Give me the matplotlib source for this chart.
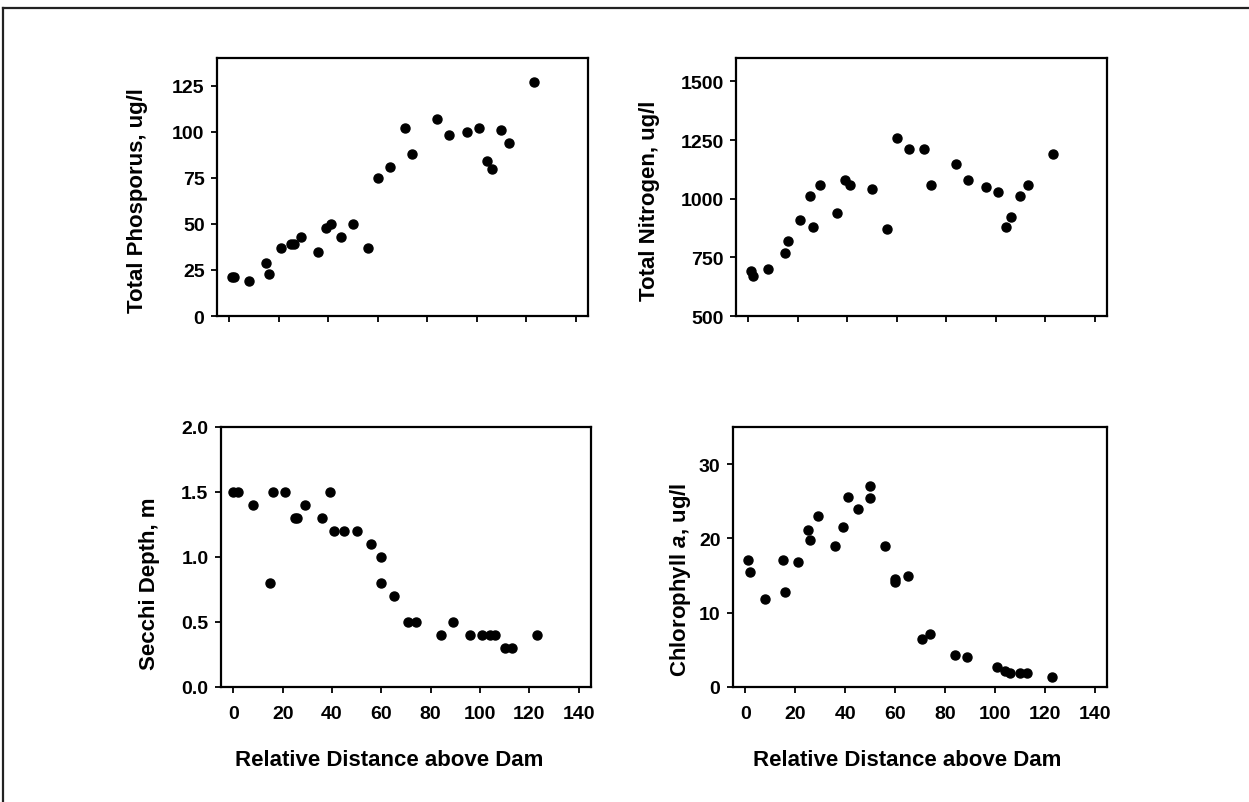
import matplotlib
matplotlib.use("Agg")
import matplotlib.pyplot as plt
from matplotlib.lines import Line2D

plt.rcParams['font.family'] = ['Liberation Sans', 'DejaVu Sans']
plt.rcParams['font.weight'] = 'bold'
plt.rcParams['mathtext.fontset'] = 'custom'
plt.rcParams['mathtext.it'] = 'Liberation Sans:bold:italic'
plt.rcParams['mathtext.rm'] = 'Liberation Sans:bold'

# ---- data ----
tp_x = [1, 2, 8, 15, 16, 21, 25, 26, 29, 36, 39, 41, 45, 50, 56, 60, 65, 71, 74,
        84, 89, 96, 101, 104, 106, 110, 113, 123]
tp_y = [21, 21, 19, 29, 23, 37, 39, 39, 43, 35, 48, 50, 43, 50, 37, 75, 81, 102, 88,
        107, 98, 100, 102, 84, 80, 101, 94, 127]

tn_x = [1, 2, 8, 15, 16, 21, 25, 26, 29, 36, 39, 41, 50, 56, 60, 65, 71, 74,
        84, 89, 96, 101, 104, 106, 110, 113, 123]
tn_y = [690, 670, 700, 770, 820, 910, 1010, 880, 1060, 940, 1080, 1060, 1040, 870, 1260,
        1210, 1210, 1060, 1150, 1080, 1050, 1030, 880, 920, 1010, 1060, 1190]

sd_x = [0, 2, 8, 16, 15, 21, 25, 26, 29, 36, 39, 41, 45, 50, 56, 60, 60, 65, 71, 74,
        84, 89, 96, 101, 104, 106, 110, 113, 123]
sd_y = [1.5, 1.5, 1.4, 1.5, 0.8, 1.5, 1.3, 1.3, 1.4, 1.3, 1.5, 1.2, 1.2, 1.2, 1.1, 1.0, 0.8,
        0.7, 0.5, 0.5, 0.4, 0.5, 0.4, 0.4, 0.4, 0.4, 0.3, 0.3, 0.4]

ch_x = [1, 2, 8, 15, 16, 21, 25, 26, 29, 36, 39, 41, 45, 50, 50, 56, 60, 60, 65, 71, 74,
        84, 89, 101, 104, 106, 110, 113, 123]
ch_y = [17.1, 15.5, 11.8, 17.1, 12.8, 16.8, 21.1, 19.8, 23.0, 19.0, 21.6, 25.6, 24.0, 27.0,
        25.4, 19.0, 14.5, 14.2, 15.0, 6.4, 7.2, 4.3, 4.0, 2.7, 2.2, 1.9, 1.9, 1.9, 1.3]

x_ticks = [0, 20, 40, 60, 80, 100, 120, 140]
tp_ticks = [0, 25, 50, 75, 100, 125]
tn_ticks = [500, 750, 1000, 1250, 1500]
sd_ticks = [0.0, 0.5, 1.0, 1.5, 2.0]
ch_ticks = [0, 10, 20, 30]

xlabel = "Relative Distance above Dam"

W, H = 1249, 803
fig = plt.figure(figsize=(W / 100, H / 100), dpi=100)

def box(l, t, r, b):
    return [l / W, 1 - b / H, (r - l) / W, (b - t) / H]

panels = [
    (box(217, 59, 588, 317), tp_x, tp_y, tp_ticks, (0, 140), "Total Phosporus, ug/l", False, (-0.185, 0.453), None),
    (box(736, 59, 1107, 317), tn_x, tn_y, tn_ticks, (500, 1600), "Total Nitrogen, ug/l", False, (-0.205, 0.45), None),
    (box(221, 428, 591, 688), sd_x, sd_y, sd_ticks, (0, 2.0), "Secchi Depth, m", True, (-0.165, 0.40), (0.454, -0.238)),
    (box(733, 428, 1107, 688), ch_x, ch_y, ch_ticks, (0, 35), r"Chlorophyll $a$, ug/l", True, (-0.108, 0.415), (0.465, -0.238)),
]

for rect, xs, ys, yt, ylim, ylab, showx, ylc, xlc in panels:
    ax = fig.add_axes(rect)
    ax.plot(xs, ys, 'o', color='black', ms=6.5, mec='black', clip_on=False)
    ax.set_xlim(-5, 145)
    ax.set_ylim(*ylim)
    ax.set_xticks(x_ticks)
    ax.set_yticks(yt)
    if ylim[1] == 2.0:
        ax.set_yticklabels([f"{v:.1f}" for v in yt])
    if not showx:
        ax.set_xticklabels([])
    for s in ax.spines.values():
        s.set_linewidth(1.6)
    ax.tick_params(direction='out', length=4, width=1.3, labelsize=14, pad=5)
    ax.tick_params(axis='x', pad=9)
    for lab in ax.get_xticklabels() + ax.get_yticklabels():
        lab.set_fontweight('bold')
    ax.set_ylabel(ylab, fontsize=16, fontweight='bold')
    ax.yaxis.set_label_coords(*ylc)
    if showx:
        ax.set_xlabel(xlabel, fontsize=16, fontweight='bold')
        ax.xaxis.set_label_coords(*xlc)

# outer frame (top and left edges)
fig.add_artist(Line2D([3 / W, 1], [1 - 9 / H, 1 - 9 / H], transform=fig.transFigure, color='#222222', lw=1.6))
fig.add_artist(Line2D([3 / W, 3 / W], [0, 1 - 9 / H], transform=fig.transFigure, color='#222222', lw=1.6))

fig.savefig("out.png", dpi=100)
